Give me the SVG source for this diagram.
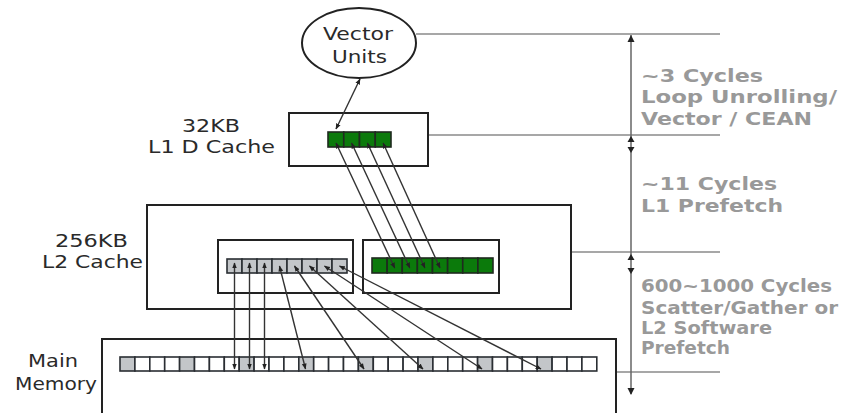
<svg xmlns="http://www.w3.org/2000/svg" width="842" height="413" viewBox="0 0 842 413">
<style>
.box{fill:none;stroke:#222;stroke-width:2}
.lbl{font-family:"DejaVu Sans","Verdana",sans-serif;font-size:18px;fill:#2a2a2a}
.note{font-family:"DejaVu Sans","Verdana",sans-serif;font-size:18px;font-weight:bold;fill:#999}
.g{fill:#0b7a0b;stroke:#1f2a1f;stroke-width:1.6}
.s{fill:#c3c6c9;stroke:#2a2e33;stroke-width:1.6}
.w{fill:#fff;stroke:#2a2e33;stroke-width:1.6}
.c{fill:none;stroke:#333;stroke-width:1.4;marker-start:url(#ah);marker-end:url(#ah)}
.rule{stroke:#8a8a8a;stroke-width:1.6}
.tri{fill:#222}
</style>
<defs>
<marker id="ah" viewBox="0 0 10 10" refX="9" refY="5" markerWidth="6" markerHeight="6" markerUnits="userSpaceOnUse" orient="auto-start-reverse"><path d="M0,1 L10,5 L0,9 z" fill="#222"/></marker>
</defs>
<rect width="842" height="413" fill="#fff"/>

<g id="vector-units">
<ellipse cx="359" cy="43" rx="57" ry="35" class="box"/>
<text class="lbl" x="323" y="40" textLength="70" lengthAdjust="spacingAndGlyphs">Vector</text>
<text class="lbl" x="332" y="63" textLength="55" lengthAdjust="spacingAndGlyphs">Units</text>
</g>

<g id="l1-cache">
<text class="lbl" x="182" y="132" textLength="58" lengthAdjust="spacingAndGlyphs">32KB</text>
<text class="lbl" x="148" y="153" textLength="127" lengthAdjust="spacingAndGlyphs">L1 D Cache</text>
<rect x="289" y="113" width="139" height="53" class="box"/>
<rect class="g" x="328" y="132" width="15.75" height="15"/>
<rect class="g" x="343.75" y="132" width="15.75" height="15"/>
<rect class="g" x="359.5" y="132" width="15.75" height="15"/>
<rect class="g" x="375.25" y="132" width="15.75" height="15"/>
</g>

<g id="l2-cache">
<text class="lbl" x="55" y="247" textLength="73" lengthAdjust="spacingAndGlyphs">256KB</text>
<text class="lbl" x="42" y="268" textLength="101" lengthAdjust="spacingAndGlyphs">L2 Cache</text>
<rect x="147" y="205" width="424" height="104" class="box"/>
<rect x="218" y="240" width="135" height="53" class="box"/>
<rect x="363" y="240" width="136" height="53" class="box"/>
<rect class="s" x="227" y="259" width="15" height="14"/>
<rect class="s" x="242" y="259" width="15" height="14"/>
<rect class="s" x="257" y="259" width="15" height="14"/>
<rect class="s" x="272" y="259" width="15" height="14"/>
<rect class="s" x="287" y="259" width="15" height="14"/>
<rect class="s" x="302" y="259" width="15" height="14"/>
<rect class="s" x="317" y="259" width="15" height="14"/>
<rect class="s" x="332" y="259" width="15" height="14"/>
<rect class="g" x="372" y="258" width="15.125" height="15"/>
<rect class="g" x="387.125" y="258" width="15.125" height="15"/>
<rect class="g" x="402.25" y="258" width="15.125" height="15"/>
<rect class="g" x="417.375" y="258" width="15.125" height="15"/>
<rect class="g" x="432.5" y="258" width="15.125" height="15"/>
<rect class="g" x="447.625" y="258" width="15.125" height="15"/>
<rect class="g" x="462.75" y="258" width="15.125" height="15"/>
<rect class="g" x="477.875" y="258" width="15.125" height="15"/>
</g>

<g id="main-memory">
<text class="lbl" x="28" y="367" textLength="50" lengthAdjust="spacingAndGlyphs">Main</text>
<text class="lbl" x="15" y="390" textLength="82" lengthAdjust="spacingAndGlyphs">Memory</text>
<path d="M102,414 V339 H616 V414" class="box"/>
<rect class="s" x="120" y="357" width="14.9" height="14"/>
<rect class="w" x="134.9" y="357" width="14.9" height="14"/>
<rect class="w" x="149.8" y="357" width="14.9" height="14"/>
<rect class="w" x="164.7" y="357" width="14.9" height="14"/>
<rect class="s" x="179.6" y="357" width="14.9" height="14"/>
<rect class="w" x="194.5" y="357" width="14.9" height="14"/>
<rect class="w" x="209.4" y="357" width="14.9" height="14"/>
<rect class="w" x="224.3" y="357" width="14.9" height="14"/>
<rect class="s" x="239.2" y="357" width="14.9" height="14"/>
<rect class="w" x="254.1" y="357" width="14.9" height="14"/>
<rect class="w" x="269" y="357" width="14.9" height="14"/>
<rect class="w" x="283.9" y="357" width="14.9" height="14"/>
<rect class="s" x="298.8" y="357" width="14.9" height="14"/>
<rect class="w" x="313.7" y="357" width="14.9" height="14"/>
<rect class="w" x="328.6" y="357" width="14.9" height="14"/>
<rect class="w" x="343.5" y="357" width="14.9" height="14"/>
<rect class="s" x="358.4" y="357" width="14.9" height="14"/>
<rect class="w" x="373.3" y="357" width="14.9" height="14"/>
<rect class="w" x="388.2" y="357" width="14.9" height="14"/>
<rect class="w" x="403.1" y="357" width="14.9" height="14"/>
<rect class="s" x="418" y="357" width="14.9" height="14"/>
<rect class="w" x="432.9" y="357" width="14.9" height="14"/>
<rect class="w" x="447.8" y="357" width="14.9" height="14"/>
<rect class="w" x="462.7" y="357" width="14.9" height="14"/>
<rect class="s" x="477.6" y="357" width="14.9" height="14"/>
<rect class="w" x="492.5" y="357" width="14.9" height="14"/>
<rect class="w" x="507.4" y="357" width="14.9" height="14"/>
<rect class="w" x="522.3" y="357" width="14.9" height="14"/>
<rect class="s" x="537.2" y="357" width="14.9" height="14"/>
<rect class="w" x="552.1" y="357" width="14.9" height="14"/>
<rect class="w" x="567" y="357" width="14.9" height="14"/>
<rect class="w" x="581.9" y="357" width="14.9" height="14"/>
</g>

<g id="connectors">
<line class="c" x1="360" y1="79" x2="336" y2="129"/>
<line class="c" x1="336" y1="143" x2="394.7" y2="268"/>
<line class="c" x1="351.6" y1="143" x2="409.8" y2="268"/>
<line class="c" x1="367.4" y1="143" x2="424.9" y2="268"/>
<line class="c" x1="383.1" y1="143" x2="440" y2="268"/>
<line class="c" x1="234.5" y1="263" x2="234.5" y2="369"/>
<line class="c" x1="249.5" y1="263" x2="249.5" y2="369"/>
<line class="c" x1="264.5" y1="263" x2="264.5" y2="369"/>
<line class="c" x1="279.5" y1="266" x2="305.5" y2="369"/>
<line class="c" x1="294.5" y1="266" x2="364" y2="369"/>
<line class="c" x1="309.5" y1="266" x2="423" y2="369"/>
<line class="c" x1="324.5" y1="266" x2="482" y2="369"/>
<line class="c" x1="339.5" y1="266" x2="541" y2="369"/>
</g>

<g id="latency-scale">
<line class="rule" x1="416" y1="34" x2="720" y2="34"/>
<line class="rule" x1="429" y1="135" x2="720" y2="135"/>
<line class="rule" x1="572" y1="252" x2="720" y2="252" stroke="#a8a8a8"/>
<line class="rule" x1="617" y1="372" x2="720" y2="372"/>
<line x1="631" y1="35" x2="631" y2="394" stroke="#666" stroke-width="1.5"/>
<polygon class="tri" points="631,35 627.5,42 634.5,42"/>
<polygon class="tri" points="631,136 627.5,142 634.5,142"/>
<polygon class="tri" points="631,153 627.5,147 634.5,147"/>
<polygon class="tri" points="631,254 627.5,260 634.5,260"/>
<polygon class="tri" points="631,274 627.5,268 634.5,268"/>
<polygon class="tri" points="631,395 627.5,388 634.5,388"/>
</g>

<g id="latency-notes">
<text class="note" x="641" y="81.5" textLength="122" lengthAdjust="spacingAndGlyphs">~3 Cycles</text>
<text class="note" x="641" y="103" textLength="196" lengthAdjust="spacingAndGlyphs">Loop Unrolling/</text>
<text class="note" x="641" y="125" textLength="171" lengthAdjust="spacingAndGlyphs">Vector / CEAN</text>
<text class="note" x="641" y="190" textLength="136" lengthAdjust="spacingAndGlyphs">~11 Cycles</text>
<text class="note" x="641" y="211.5" textLength="142" lengthAdjust="spacingAndGlyphs">L1 Prefetch</text>
<text class="note" x="641" y="292" textLength="191" lengthAdjust="spacingAndGlyphs">600~1000 Cycles</text>
<text class="note" x="641" y="313.5" textLength="197" lengthAdjust="spacingAndGlyphs">Scatter/Gather or</text>
<text class="note" x="641" y="334" textLength="131" lengthAdjust="spacingAndGlyphs">L2 Software</text>
<text class="note" x="641" y="354" textLength="89" lengthAdjust="spacingAndGlyphs">Prefetch</text>
</g>
</svg>
